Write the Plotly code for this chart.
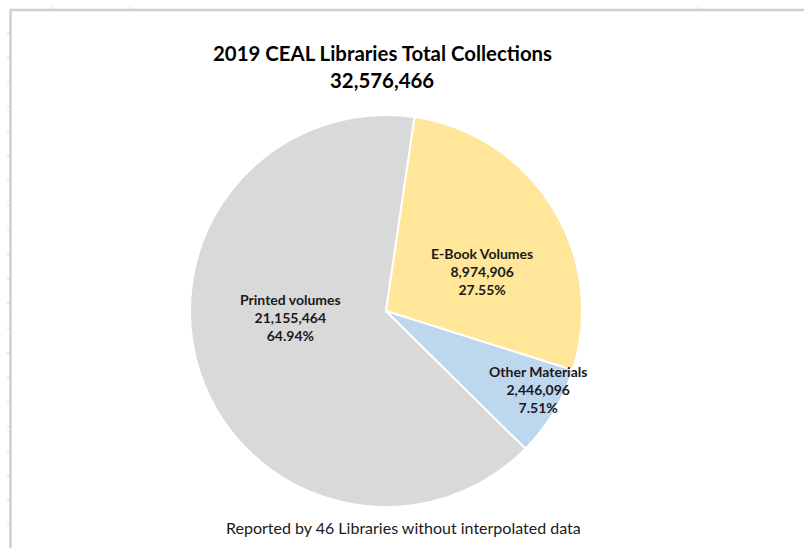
import plotly.graph_objects as go

# Data
categories = ["Printed volumes", "E-Book Volumes", "Other Materials"]
values = [21155464, 8974906, 2446096]
colors = ["#D9D9D9", "#FFE699", "#BDD7EE"]
title_text = "2019 CEAL Libraries Total Collections"
footer_text = "Reported by 46 Libraries without interpolated data"

total = sum(values)
W, H = 804, 548
cx, cy, R = 386, 311, 196  # pie center / radius in pixels

FONT = "Lato, Calibri, sans-serif"

fig = go.Figure(go.Pie(
    labels=categories,
    values=values,
    sort=False,
    direction="clockwise",
    rotation=134.6,
    marker=dict(colors=colors, line=dict(color="white", width=2)),
    textinfo="none",
    hoverinfo="label+value+percent",
    showlegend=False,
    domain=dict(x=[(cx - R) / W, (cx + R) / W],
                y=[(H - cy - R) / H, (H - cy + R) / H]),
))

# label anchor positions (pixels)
label_pos = [(290, 317), (482, 271), (538, 389)]
annotations = []
for cat, v, (px, py) in zip(categories, values, label_pos):
    annotations.append(dict(
        x=px / W, y=1 - py / H, xref="paper", yref="paper",
        text=f"{cat}<br>{v:,}<br>{v / total * 100:.2f}%",
        showarrow=False, xanchor="center", yanchor="middle",
        font=dict(family=FONT, size=14, color="#1a1a1a", weight="bold"),
    ))

annotations.append(dict(x=382 / W, y=1 - 53 / H, xref="paper", yref="paper",
                        text=title_text, showarrow=False,
                        xanchor="center", yanchor="middle",
                        font=dict(family=FONT, size=20.4, color="#000", weight="bold")))
annotations.append(dict(x=382 / W, y=1 - 80 / H, xref="paper", yref="paper",
                        text=f"{total:,}", showarrow=False,
                        xanchor="center", yanchor="middle",
                        font=dict(family=FONT, size=20.4, color="#000", weight="bold")))
annotations.append(dict(x=403 / W, y=1 - 527 / H, xref="paper", yref="paper",
                        text=footer_text, showarrow=False,
                        xanchor="center", yanchor="middle",
                        font=dict(family=FONT, size=16, color="#1a1a1a")))

# spreadsheet frame lines (decoration)
line_style = dict(color="#CFCFCF", width=2.5)
shapes = [
    dict(type="line", xref="paper", yref="paper", x0=10 / W, x1=1, y0=1 - 10 / H, y1=1 - 10 / H,
         line=line_style, layer="above"),
    dict(type="line", xref="paper", yref="paper", x0=10.5 / W, x1=10.5 / W, y0=0, y1=1 - 9 / H,
         line=line_style, layer="above"),
]
for i in range(21):
    yy = 33 + i * 24.6
    if yy > H:
        break
    shapes.append(dict(type="line", xref="paper", yref="paper", x0=7 / W, x1=10 / W,
                       y0=1 - yy / H, y1=1 - yy / H, line=dict(color="#D4D4D4", width=1)))
for xx in (52, 130, 698):
    shapes.append(dict(type="line", xref="paper", yref="paper", x0=xx / W, x1=xx / W,
                       y0=1 - 7 / H, y1=1 - 9 / H, line=dict(color="#D4D4D4", width=1)))

fig.update_layout(
    width=W, height=H,
    margin=dict(l=0, r=0, t=0, b=0),
    paper_bgcolor="white", plot_bgcolor="white",
    annotations=annotations, shapes=shapes,
    font=dict(family=FONT),
)

fig.write_html("out.html", config={"displayModeBar": False},
               post_script="document.body.style.margin='0';document.body.style.overflow='hidden';")
